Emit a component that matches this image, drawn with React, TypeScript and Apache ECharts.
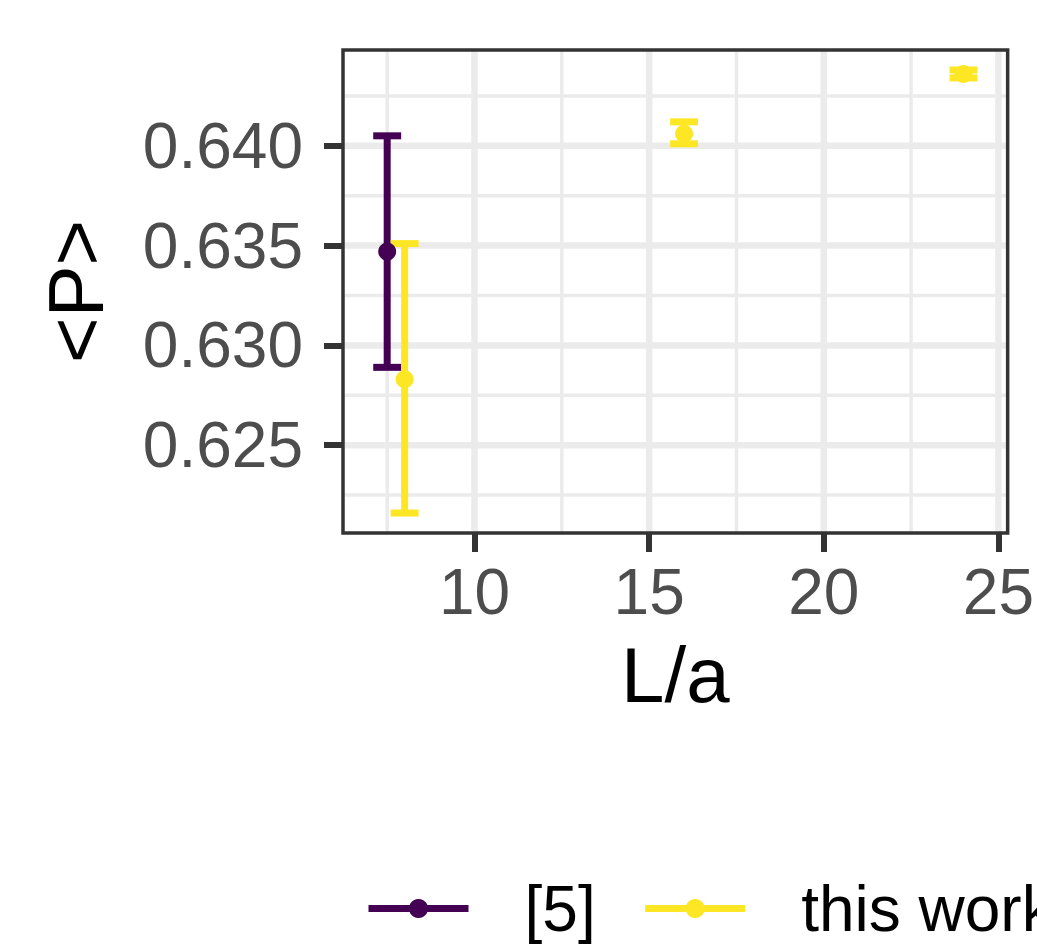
import React, { useEffect, useRef } from "react";
import * as echarts from "echarts";

// ---- data ----
const refLengths = [7.5];
const refValues = [0.6347];
const refLower = [0.6289];
const refUpper = [0.6405];

const workLengths = [8, 16, 24];
const workValues = [0.6283, 0.6406, 0.6436];
const workLower = [0.6216, 0.6401, 0.6434];
const workUpper = [0.6351, 0.6412, 0.6438];

const xTicks = [10, 15, 20, 25];
const xMinor = [7.5, 12.5, 17.5, 22.5];
const yTicks = [0.625, 0.63, 0.635, 0.64];
const yMinor = [0.6225, 0.6275, 0.6325, 0.6375, 0.6425];

const seriesNames = ["[5]", "this work"];
const colors = ["#440154", "#fde725"];

const X_MIN = 6.235;
const X_MAX = 25.265;
const Y_MIN = 0.6206;
const Y_MAX = 0.6448;
const CAP_HALF = 0.4;
const FONT = "'Liberation Sans', Arial, Helvetica, sans-serif";

function errorSeries(name: string, color: string, xs: number[], lo: number[], hi: number[]) {
  return {
    type: "custom",
    name,
    z: 3,
    silent: true,
    encode: { x: 0, y: [1, 2] },
    data: xs.map((x, i) => [x, lo[i], hi[i]]),
    renderItem: (params: any, api: any) => {
      const x = api.value(0);
      const l = api.value(1);
      const h = api.value(2);
      const top = api.coord([x, h]);
      const bot = api.coord([x, l]);
      const left = api.coord([x - CAP_HALF, h])[0];
      const right = api.coord([x + CAP_HALF, h])[0];
      const style = { stroke: color, lineWidth: 7, lineCap: "butt" };
      return {
        type: "group",
        children: [
          { type: "line", shape: { x1: top[0], y1: top[1], x2: bot[0], y2: bot[1] }, style },
          { type: "line", shape: { x1: left, y1: top[1], x2: right, y2: top[1] }, style },
          { type: "line", shape: { x1: left, y1: bot[1], x2: right, y2: bot[1] }, style },
        ],
      };
    },
  };
}

function gridSeries(values: number[], dir: "x" | "y", width: number) {
  return {
    type: "custom",
    name: "grid-" + dir + width,
    z: 1,
    silent: true,
    encode: dir === "x" ? { x: 0, y: 1 } : { x: 1, y: 0 },
    data: values.map((v) => (dir === "x" ? [v, Y_MIN] : [v, X_MIN])),
    renderItem: (params: any, api: any) => {
      const cs = params.coordSys;
      const v = api.value(0);
      if (dir === "x") {
        const px = api.coord([v, Y_MIN])[0];
        return {
          type: "line",
          shape: { x1: px, y1: cs.y, x2: px, y2: cs.y + cs.height },
          style: { stroke: "#ebebeb", lineWidth: width },
        };
      }
      const py = api.coord([X_MIN, v])[1];
      return {
        type: "line",
        shape: { x1: cs.x, y1: py, x2: cs.x + cs.width, y2: py },
        style: { stroke: "#ebebeb", lineWidth: width },
      };
    },
  };
}

const borderSeries = {
  type: "custom",
  name: "panel-border",
  z: 10,
  silent: true,
  encode: { x: 0, y: 1 },
  data: [[X_MIN, Y_MIN]],
  renderItem: (params: any) => {
    const cs = params.coordSys;
    return {
      type: "rect",
      shape: { x: cs.x, y: cs.y, width: cs.width, height: cs.height },
      style: { fill: "none", stroke: "#333333", lineWidth: 3.5 },
    };
  },
};

export default function App() {
  const ref = useRef<HTMLDivElement>(null);
  useEffect(() => {
    if (!ref.current) return;
    const chart = echarts.init(ref.current, null, { renderer: "svg" });
    chart.setOption({
      animation: false,
      backgroundColor: "#ffffff",
      grid: {
        left: 343,
        top: 50,
        width: 665,
        height: 483,
        show: false,
      },
      legend: {
        left: 360,
        top: 859,
        width: 1000,
        itemWidth: 100,
        itemHeight: 24,
        itemGap: 46,
        data: seriesNames.map((n, i) => ({
          name: n,
          itemStyle: { color: colors[i] },
          lineStyle: { color: colors[i], width: 7, opacity: 1 },
        })),
        textStyle: {
          fontFamily: FONT,
          fontSize: 64,
          color: "#000000",
          lineHeight: 74,
          padding: [15, 0, 0, 51],
        },
      },
      xAxis: {
        type: "value",
        min: X_MIN,
        max: X_MAX,
        name: "L/a",
        nameLocation: "middle",
        nameGap: 103,
        nameTextStyle: { fontFamily: FONT, fontSize: 78, color: "#000000" },
        axisLine: { show: false },
        splitLine: { show: false },
        axisTick: {
          show: true,
          length: 19,
          customValues: xTicks,
          lineStyle: { color: "#333333", width: 6 },
        },
        axisLabel: {
          customValues: xTicks,
          margin: 27,
          fontFamily: FONT,
          fontSize: 64,
          color: "#4d4d4d",
          formatter: (v: number) => String(v),
        },
      },
      yAxis: {
        type: "value",
        min: Y_MIN,
        max: Y_MAX,
        name: "<P>",
        nameLocation: "middle",
        nameGap: 228,
        nameRotate: 90,
        nameTextStyle: { fontFamily: FONT, fontSize: 78, color: "#000000" },
        axisLine: { show: false },
        splitLine: { show: false },
        axisTick: {
          show: true,
          length: 19,
          customValues: yTicks,
          lineStyle: { color: "#333333", width: 6 },
        },
        axisLabel: {
          customValues: yTicks,
          margin: 40,
          fontFamily: FONT,
          fontSize: 64,
          color: "#4d4d4d",
          formatter: (v: number) => v.toFixed(3),
        },
      },
      series: [
        gridSeries(xMinor, "x", 3.5),
        gridSeries(yMinor, "y", 3.5),
        gridSeries(xTicks, "x", 6.5),
        gridSeries(yTicks, "y", 6.5),
        errorSeries("[5] err", colors[0], refLengths, refLower, refUpper),
        errorSeries("this work err", colors[1], workLengths, workLower, workUpper),
        {
          type: "line",
          name: seriesNames[0],
          z: 4,
          data: refLengths.map((x, i) => [x, refValues[i]]),
          symbol: "circle",
          symbolSize: 18,
          showSymbol: true,
          itemStyle: { color: colors[0] },
          lineStyle: { width: 0, color: colors[0] },
        },
        {
          type: "line",
          name: seriesNames[1],
          z: 4,
          data: workLengths.map((x, i) => [x, workValues[i]]),
          symbol: "circle",
          symbolSize: 18,
          showSymbol: true,
          itemStyle: { color: colors[1] },
          lineStyle: { width: 0, color: colors[1] },
        },
        borderSeries,
      ],
    });
    return () => chart.dispose();
  }, []);
  return <div ref={ref} style={{ width: 1037, height: 946, position: "absolute", left: 0, top: 0 }} />;
}
